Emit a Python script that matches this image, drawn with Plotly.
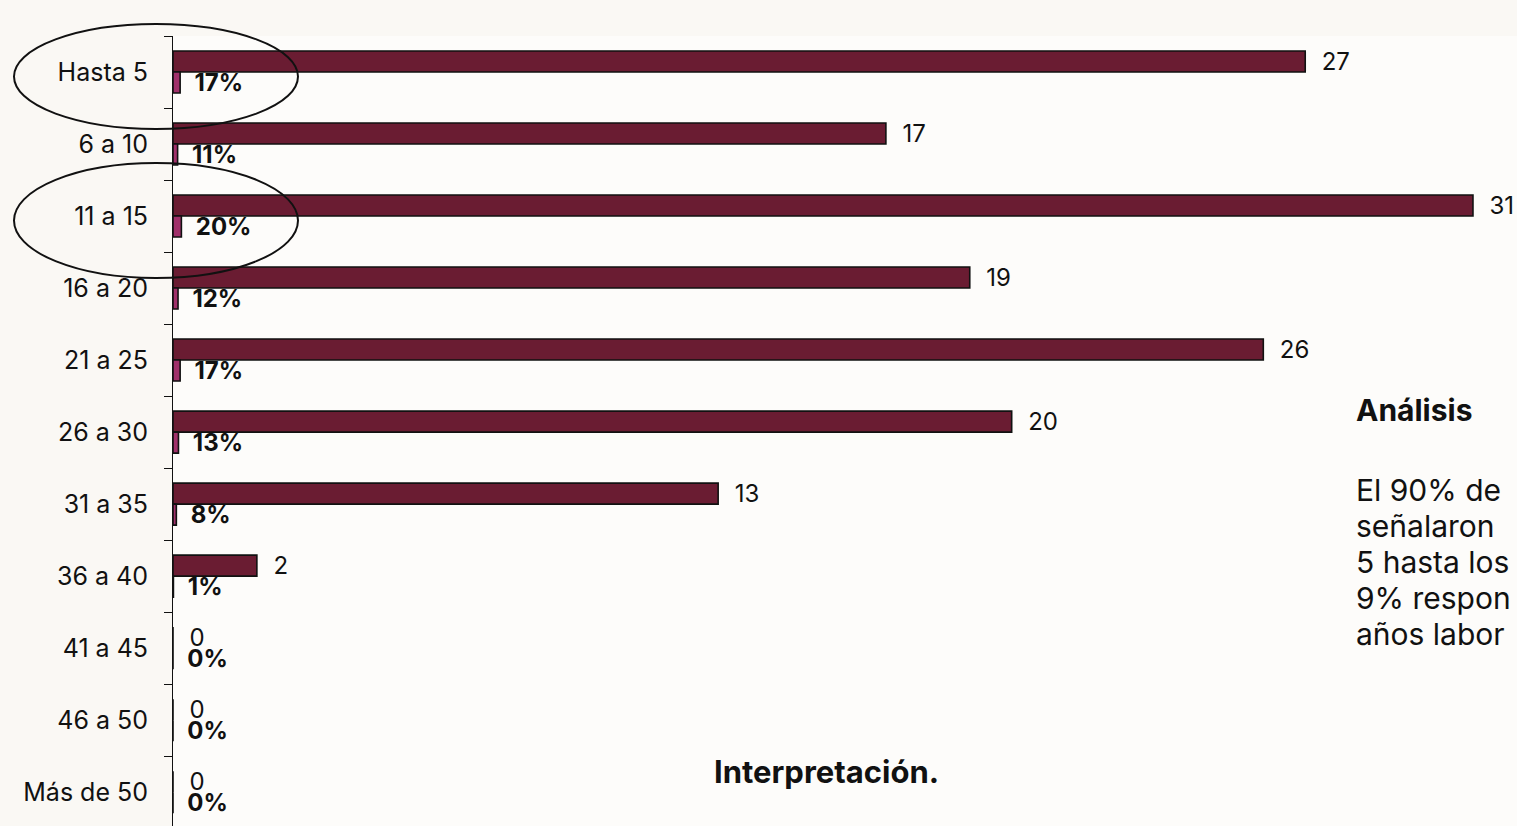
import plotly.graph_objects as go

# ---- data ----
categories = ["Hasta 5", "6 a 10", "11 a 15", "16 a 20", "21 a 25", "26 a 30",
              "31 a 35", "36 a 40", "41 a 45", "46 a 50", "Más de 50"]
counts = [27, 17, 31, 19, 26, 20, 13, 2, 0, 0, 0]
shares = [0.17, 0.11, 0.20, 0.12, 0.17, 0.13, 0.08, 0.01, 0, 0, 0]

analysis_title = "Análisis"
analysis_lines = ["El 90% de", "señalaron", "5 hasta los", "9% respon", "años labor"]
interp_title = "Interpretación."

FONT = "Inter"
W, H = 1517, 826
ML, MT = 173, 36
PW, PH = W - ML, H - MT

def px(x):
    return (x - ML) / PW

def py(y):
    return 1 - (y - MT) / PH

fig = go.Figure()
fig.add_trace(go.Bar(
    y=categories, x=counts, orientation="h",
    marker=dict(color="#6a1c32", line=dict(color="#111111", width=1.6)),
    texttemplate="\u00a0\u00a0%{x}", textposition="outside",
    textfont=dict(family=FONT, size=24, color="#111111"),
    constraintext="none", cliponaxis=False, showlegend=False,
))
fig.add_trace(go.Bar(
    y=categories, x=shares, orientation="h",
    marker=dict(color="#a0306a", line=dict(color="#111111", width=1.6)),
    texttemplate="\u00a0\u00a0%{x:.0%}", textposition="outside",
    textfont=dict(family=FONT, size=24, color="#111111", weight="bold"),
    constraintext="none", cliponaxis=False, showlegend=False,
))

fig.update_layout(
    width=W, height=H,
    margin=dict(l=ML, r=0, t=MT, b=0, pad=0),
    barmode="group", bargap=0.4167, bargroupgap=0,
    paper_bgcolor="#faf8f4", plot_bgcolor="#fdfcfa",
    font=dict(family=FONT, size=25, color="#111111"),
    xaxis=dict(range=[0, 32.05], visible=False, showgrid=False, zeroline=False),
    yaxis=dict(type="category", range=[10.47, -0.5], showgrid=False, zeroline=False,
               showline=True, linecolor="#111111", linewidth=1,
               ticks="outside", ticklen=8, tickcolor="#111111",
               tickson="boundaries", ticklabelstandoff=19,
               tickfont=dict(family=FONT, size=25, color="#111111")),
)

# ellipses highlighting categories
for (x0, y0, x1, y1) in [(14, 24, 298, 129), (14, 163, 298, 278)]:
    fig.add_shape(type="circle", xref="paper", yref="paper",
                  x0=px(x0), x1=px(x1), y0=py(y1), y1=py(y0),
                  line=dict(color="#111111", width=2), fillcolor="rgba(0,0,0,0)")

fig.add_annotation(xref="paper", yref="paper", x=px(1354), y=py(410),
                   xanchor="left", yanchor="middle", showarrow=False,
                   text=analysis_title, font=dict(family=FONT, size=30, color="#111111", weight="bold"))
for i, line in enumerate(analysis_lines):
    fig.add_annotation(xref="paper", yref="paper", x=px(1354), y=py(490 + 36 * i),
                       xanchor="left", yanchor="middle", showarrow=False,
                       text=line, font=dict(family=FONT, size=30, color="#111111"))
fig.add_annotation(xref="paper", yref="paper", x=px(712), y=py(771),
                   xanchor="left", yanchor="middle", showarrow=False,
                   text=interp_title, font=dict(family=FONT, size=31, color="#111111", weight="bold"))

fig.write_html("out.html")
